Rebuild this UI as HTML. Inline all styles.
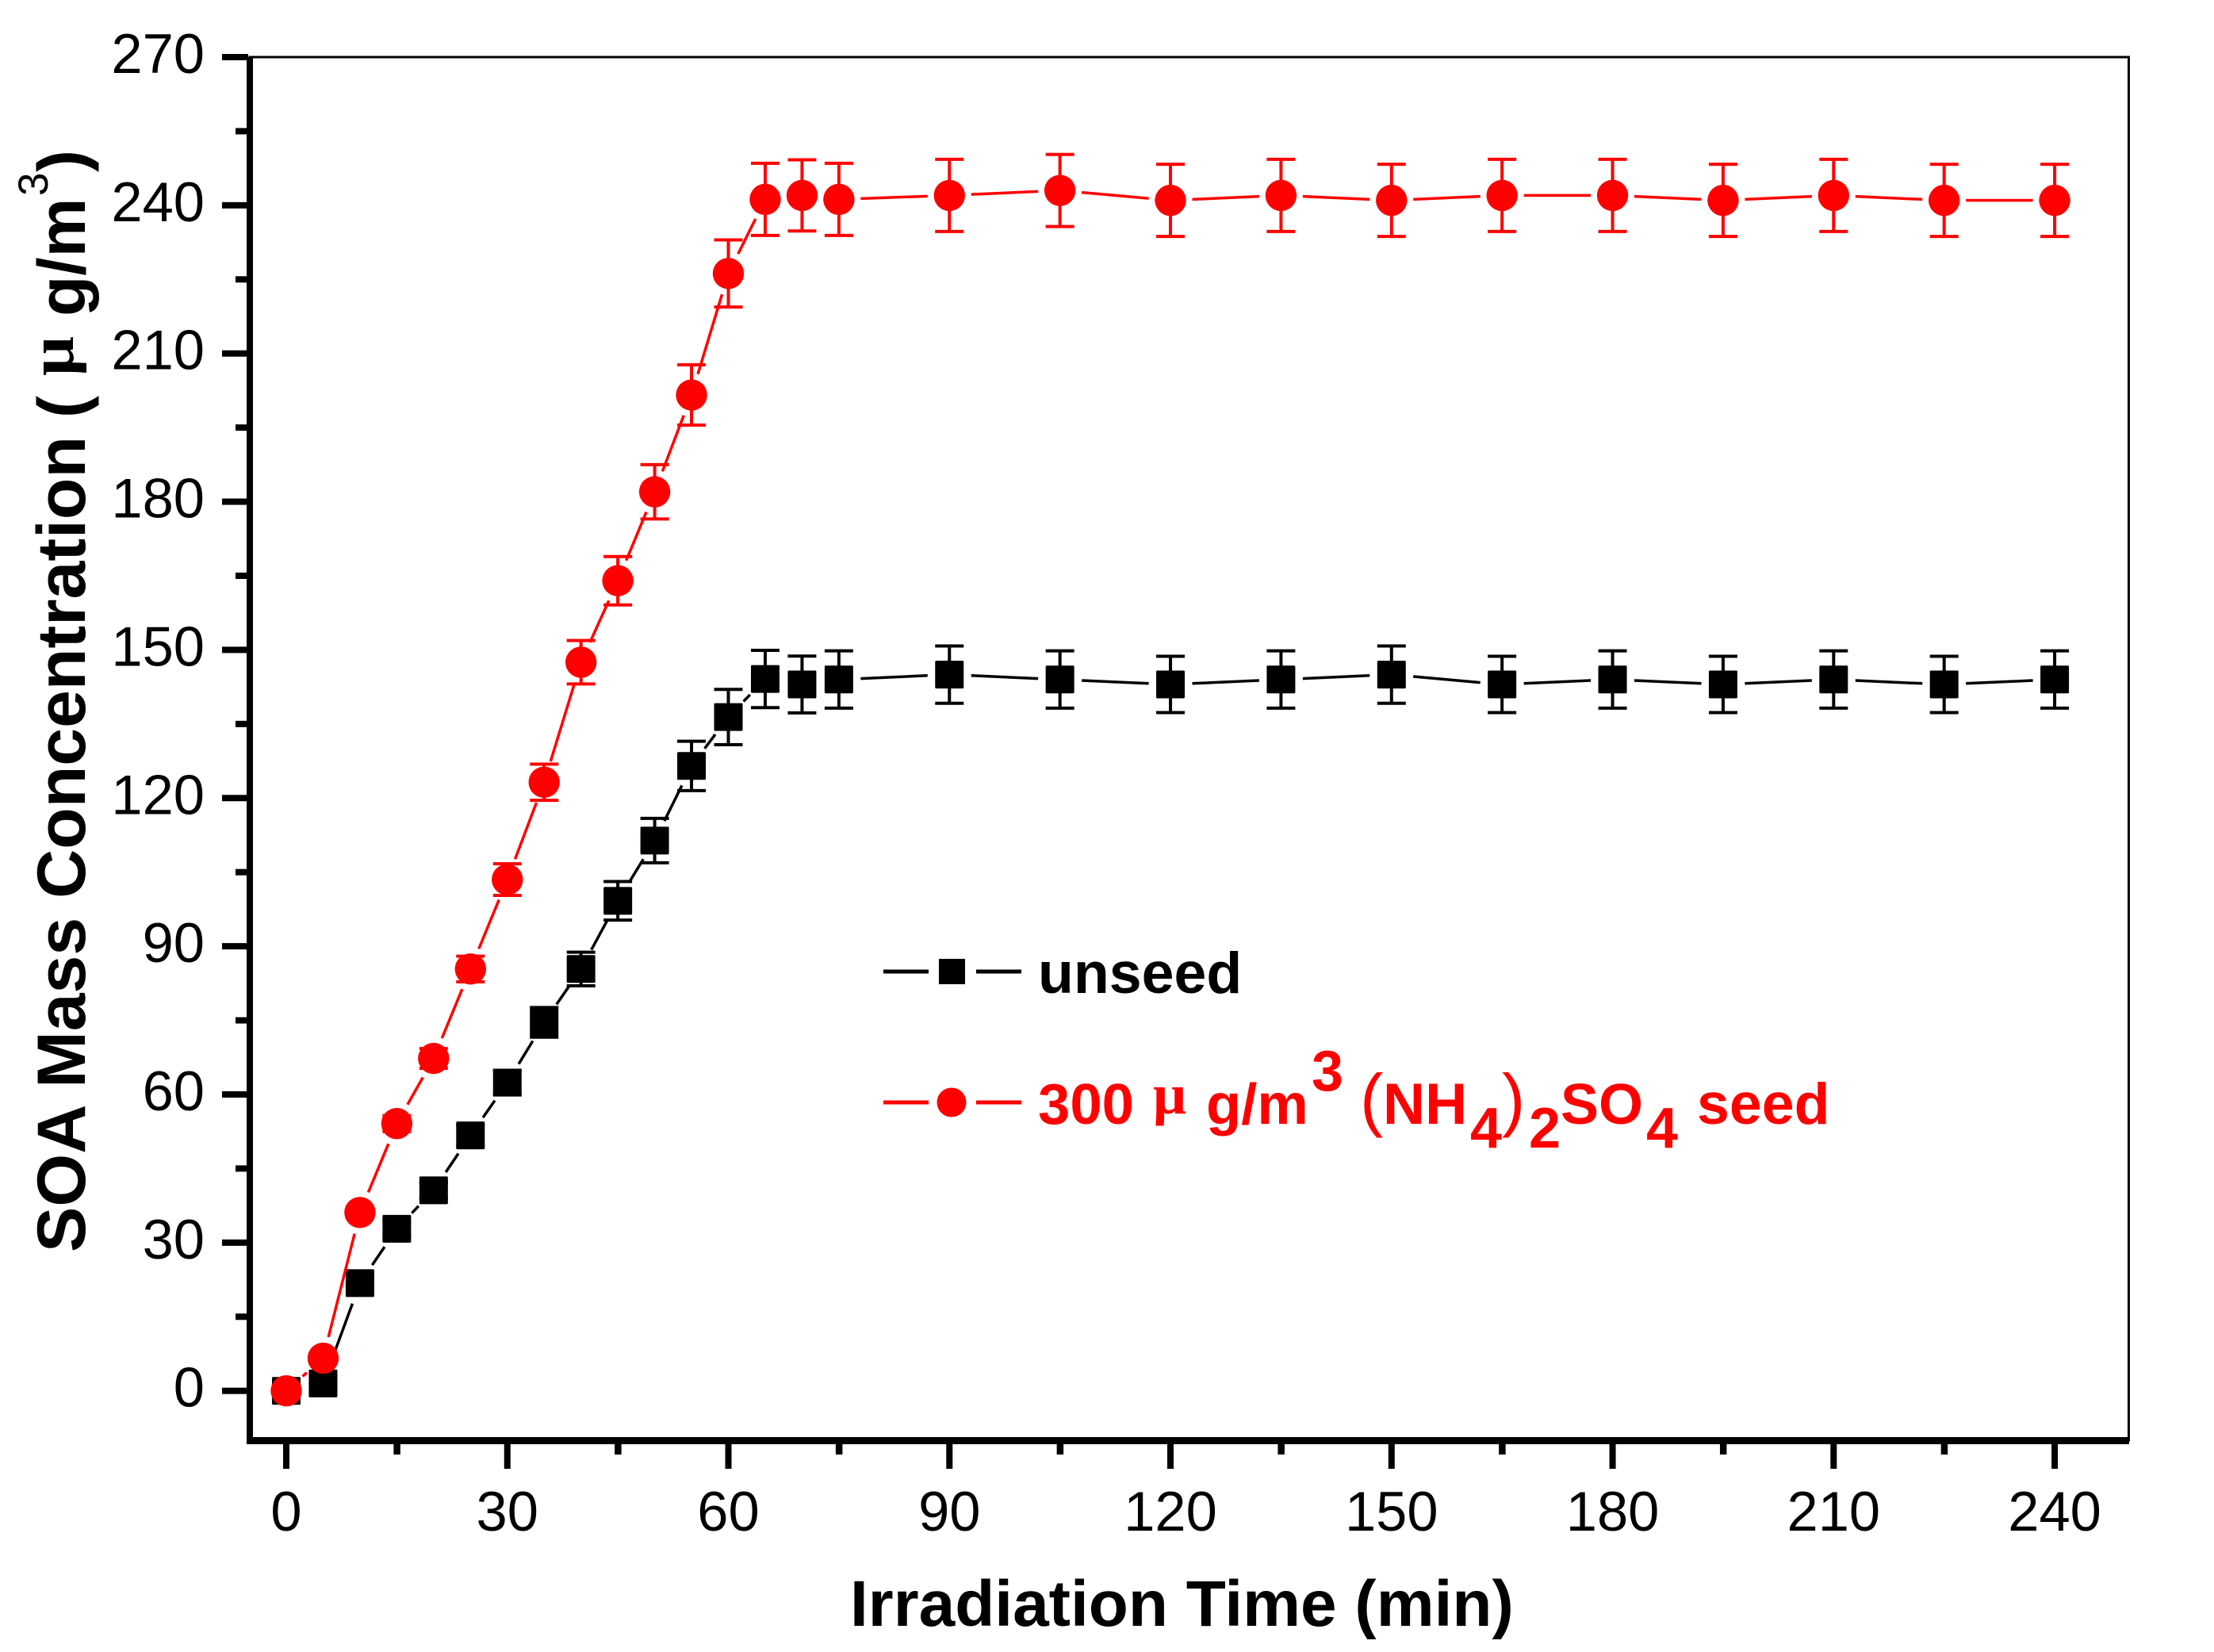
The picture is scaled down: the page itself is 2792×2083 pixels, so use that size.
<!DOCTYPE html>
<html lang="en">
<head>
<meta charset="utf-8">
<title>SOA Mass Concentration vs Irradiation Time</title>
<style>
html,body{margin:0;padding:0;background:#fff;}
svg{display:block;}
text{font-family:"Liberation Sans",sans-serif;}
.b{font-weight:bold;}
.s{font-family:"Liberation Serif",serif;font-weight:bold;}
.tick{font-size:70.5px;fill:#000;}
</style>
</head>
<body>
<svg id="chart" xmlns="http://www.w3.org/2000/svg" width="2792" height="2083" viewBox="0 0 2792 2083">
  <rect x="0" y="0" width="2792" height="2083" fill="#fff"/>
  <g id="frame"></g>
  <g id="series"></g>

  <text class="b" x="1072" y="2050" font-size="82">Irradiation Time (min)</text>

  <g transform="translate(107,0) rotate(-90)">
    <text class="b" x="-1579" y="0" font-size="86">SOA Mass Concentration</text>
    <text class="b" x="-527" y="0" font-size="84" textLength="28" lengthAdjust="spacingAndGlyphs">(</text>
    <text class="s" x="-474" y="-15" font-size="80" textLength="50" lengthAdjust="spacingAndGlyphs">μ</text>
    <text class="b" x="-399" y="0" font-size="84">g/m</text>
    <text x="-247" y="-47" font-size="53">3</text>
    <text class="b" x="-217" y="0" font-size="84" textLength="28" lengthAdjust="spacingAndGlyphs">)</text>
  </g>

  <g>
    <g>
      <line x1="1114" x2="1171" y1="1225" y2="1225" stroke="#000" stroke-width="5"/>
      <rect x="1184" y="1209" width="33" height="32" fill="#000"/>
      <line x1="1231" x2="1288" y1="1225" y2="1225" stroke="#000" stroke-width="5"/>
      <text class="b" x="1309" y="1252" font-size="73.5" fill="#000">unseed</text>
    </g>
    <g fill="#f00">
      <line x1="1114" x2="1171" y1="1390" y2="1390" stroke="#f00" stroke-width="5"/>
      <circle cx="1200" cy="1390" r="18.5" fill="#f00"/>
      <line x1="1231" x2="1288" y1="1390" y2="1390" stroke="#f00" stroke-width="5"/>
      <text class="b" x="1309" y="1417" font-size="72.5">300</text>
      <text class="s" x="1454" y="1404" font-size="72" textLength="42" lengthAdjust="spacingAndGlyphs">μ</text>
      <text class="b" x="1521" y="1417" font-size="72.5">g/m</text>
      <text class="b" x="1654" y="1375" font-size="72">3</text>
      <text x="1715" y="1416" font-size="88">(</text>
      <text class="b" x="1744" y="1417" font-size="73.5">NH</text>
      <text class="b" x="1854" y="1447" font-size="72">4</text>
      <text x="1894" y="1416" font-size="88">)</text>
      <text class="b" x="1928" y="1447" font-size="72">2</text>
      <text class="b" x="1968" y="1417" font-size="72">SO</text>
      <text class="b" x="2076" y="1447" font-size="72">4</text>
      <text class="b" x="2140" y="1417" font-size="73.5">seed</text>
    </g>
  </g>
</svg>
<script>
const times = [0,5,10,15,20,25,30,35,40,45,50,55,60,65,70,75,90,105,120,135,150,165,180,195,210,225,240];
const unseedValues = [0,1.5,21.8,32.8,40.6,51.7,62.4,74.6,85.4,99.2,111.4,126.5,136.4,144.1,143,144,145,144,143,144,145,143,144,143,144,143,144];
const unseedErrors = [0,0.1,0.9,1.3,1.6,2.1,2.5,3,3.4,3.9,4.5,5,5.6,5.8,5.75,5.8,5.8,5.8,5.7,5.8,5.8,5.7,5.8,5.7,5.8,5.7,5.8];
const seedValues = [0,6.6,36.1,54.1,67.3,85.4,103.5,123.2,147.5,164,182,201.6,226.2,241.2,242,241.2,242,243,241,242,241,242,242,241,242,241,241];
const seedErrors = [0,0.2,1.1,1.6,2,2.6,3.2,3.66,4.4,4.9,5.5,6.1,6.8,7.3,7.2,7.3,7.3,7.3,7.3,7.3,7.3,7.3,7.3,7.3,7.3,7.3,7.3];
const xMajorTicks = [0,30,60,90,120,150,180,210,240];
const xMinorTicks = [15,45,75,105,135,165,195,225];
const yMajorTicks = [0,30,60,90,120,150,180,210,240,270];
const yMinorTicks = [15,45,75,105,135,165,195,225,255];

const X0 = 361, XS = 9.292, Y0 = 1753.7, YS = 6.2285;
const SVGNS = 'http://www.w3.org/2000/svg';
function xPos(t){ return X0 + t * XS; }
function yPos(v){ return Y0 - v * YS; }
function make(parent, tag, attrs){
  const el = document.createElementNS(SVGNS, tag);
  for (const k in attrs) el.setAttribute(k, attrs[k]);
  parent.appendChild(el);
  return el;
}

const frame = document.getElementById('frame');
const seriesLayer = document.getElementById('series');

let border = make(frame, 'rect', {x:315, y:72, width:2369.5, height:1744, fill:'none', stroke:'#000', 'stroke-width':3});


let leftAxis = make(frame, 'rect', {x:311, y:72, width:8, height:1749, fill:'#000'});


let bottomAxis = make(frame, 'rect', {x:314, y:1812, width:2371, height:9, fill:'#000'});



xMajorTicks.forEach(function(t){
  const tick = make(frame, 'rect', {x:xPos(t)-4, y:1820, width:8, height:32, fill:'#000'});
  
  
  const label = make(frame, 'text', {x:xPos(t), y:1930, 'text-anchor':'middle', 'class':'tick'});
  
  
  label.textContent = String(t);
});
xMinorTicks.forEach(function(t){
  const tick = make(frame, 'rect', {x:xPos(t)-4, y:1820, width:8.5, height:14, fill:'#000'});
  
  
});
yMajorTicks.forEach(function(v){
  const tick = make(frame, 'rect', {x:280, y:yPos(v)-4, width:33, height:8, fill:'#000'});
  
  
  const label = make(frame, 'text', {x:258, y:yPos(v)+20, 'text-anchor':'end', 'class':'tick'});
  
  
  label.textContent = String(v);
});
yMinorTicks.forEach(function(v){
  const tick = make(frame, 'rect', {x:297, y:yPos(v)-4, width:16, height:8, fill:'#000'});
  
  
});

const GAP = 27.5;
function drawSeries(name, values, errors, color, markerKind){
  const g = make(seriesLayer, 'g', {});
  
  

  for (let i = 0; i < times.length - 1; i++){
    const ax = xPos(times[i]), ay = yPos(values[i]);
    const bx = xPos(times[i+1]), by = yPos(values[i+1]);
    const d = Math.hypot(bx-ax, by-ay);
    if (d <= 2 * GAP) continue;
    const ux = (bx-ax)/d, uy = (by-ay)/d;
    const seg = make(g, 'line', {x1:ax+ux*GAP, y1:ay+uy*GAP, x2:bx-ux*GAP, y2:by-uy*GAP, stroke:color, 'stroke-width':3.5});
    
    
  }
  times.forEach(function(t, i){
    const cx = xPos(t), hi = yPos(values[i] + errors[i]), lo = yPos(values[i] - errors[i]);
    const stem = make(g, 'line', {x1:cx, x2:cx, y1:hi, y2:lo, stroke:color, 'stroke-width':4});
    
    
    const capTop = make(g, 'line', {x1:cx-18, x2:cx+18, y1:hi, y2:hi, stroke:color, 'stroke-width':4});
    
    
    const capBottom = make(g, 'line', {x1:cx-18, x2:cx+18, y1:lo, y2:lo, stroke:color, 'stroke-width':4});
    
    
  });
  times.forEach(function(t, i){
    const cx = xPos(t), cy = yPos(values[i]);
    let m;
    if (markerKind === 'square'){
      m = make(g, 'rect', {x:cx-18, y:cy-17.5, width:36, height:35, rx:1.5, fill:color});
    } else {
      m = make(g, 'circle', {cx:cx, cy:cy, r:19.7, fill:color});
    }
    
    
  });
}
drawSeries('unseed', unseedValues, unseedErrors, '#000', 'square');
drawSeries('seed', seedValues, seedErrors, '#f00', 'circle');
</script>
</body>
</html>
